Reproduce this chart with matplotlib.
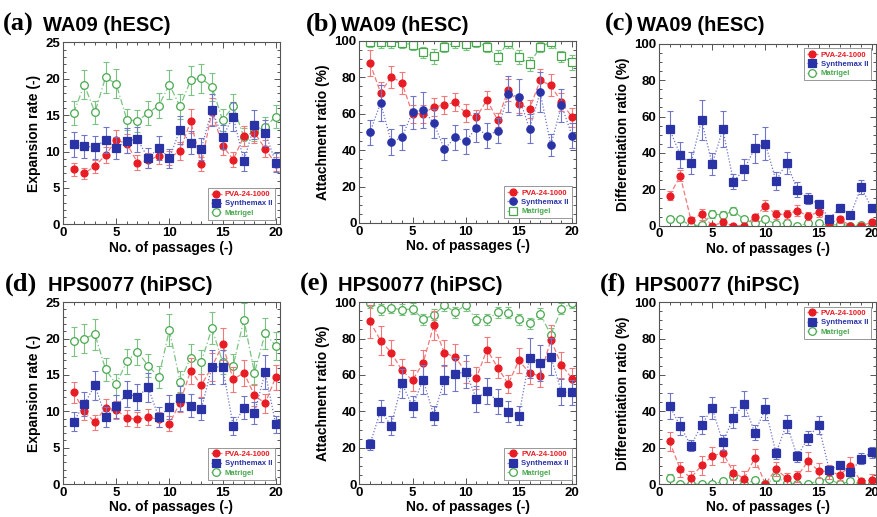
import numpy as np
import matplotlib
matplotlib.use("Agg")
import matplotlib.pyplot as plt
from matplotlib.ticker import MultipleLocator

plt.rcParams['font.family'] = ['Liberation Sans', 'DejaVu Sans']
plt.rcParams['font.weight'] = 'bold'

passages = list(range(1, 21))
labels = ['PVA-24-1000', 'Synthemax II', 'Matrigel']

# (a) WA09 expansion rate
a_pva = [7.6, 7.0, 8.0, 9.5, 11.6, 11.1, 8.5, 8.8, 9.4, 9.1, 10.1, 14.2, 8.3, 15.5, 10.8, 8.9, 12.1, 12.6, 10.4, 8.3]
a_pva_err = [0.9, 0.8, 0.9, 1.1, 1.4, 1.3, 1.0, 1.0, 1.1, 1.0, 1.2, 1.7, 1.0, 1.8, 1.3, 1.0, 1.4, 1.4, 1.2, 1.0]
a_syn = [11.0, 10.7, 10.6, 11.6, 10.5, 11.5, 11.7, 9.1, 10.5, 9.1, 13.0, 11.2, 10.4, 15.7, 12.0, 14.8, 8.7, 13.7, 12.6, 8.5]
a_syn_err = [1.7, 1.6, 1.6, 1.8, 1.5, 1.7, 1.7, 1.4, 1.6, 1.3, 1.9, 1.6, 1.5, 2.2, 1.7, 2.0, 1.3, 2.0, 1.8, 1.3]
a_mat = [15.3, 19.2, 15.4, 20.2, 19.3, 14.4, 14.2, 15.3, 16.3, 19.2, 16.2, 19.8, 20.1, 18.9, 14.3, 16.2, 12.0, 12.8, 13.4, 14.8]
a_mat_err = [1.6, 2.0, 1.6, 2.1, 2.0, 1.5, 1.5, 1.6, 1.7, 2.0, 1.7, 2.0, 2.0, 1.9, 1.5, 1.7, 1.3, 1.4, 1.4, 1.6]

# (b) WA09 attachment ratio
b_pva = [87.8, 71.6, 80.3, 77.1, 60.0, 60.0, 63.8, 64.8, 66.4, 60.3, 58.0, 67.7, 56.5, 73.2, 65.5, 62.7, 78.4, 75.6, 66.4, 58.0]
b_pva_err = [7, 6, 6, 6, 5, 5, 5, 5, 5, 5, 4, 5, 4, 6, 5, 5, 6, 6, 5, 5]
b_syn = [49.8, 66.0, 44.5, 47.0, 60.9, 62.2, 54.8, 40.6, 47.0, 44.8, 52.4, 48.0, 50.7, 71.0, 69.2, 51.8, 71.8, 42.8, 64.6, 48.0]
b_syn_err = [7, 10, 7, 7, 9, 10, 8, 6, 7, 7, 8, 7, 7, 10, 10, 8, 11, 6, 9, 7]
b_mat = [99.6, 99.4, 99.4, 99.0, 98.0, 93.7, 91.5, 96.7, 99.3, 98.3, 99.6, 96.7, 91.3, 99.4, 91.3, 87.3, 96.7, 99.4, 91.7, 88.2]
b_mat_err = [3, 3, 3, 3, 3, 3, 4, 3, 3, 3, 3, 3, 4, 3, 4, 4, 3, 3, 3, 4]

# (c) WA09 differentiation ratio
c_pva = [16.6, 27.4, 3.3, 6.4, 0.0, 1.8, 0.0, 0.0, 4.6, 10.9, 6.3, 6.3, 8.3, 5.3, 7.5, 1.3, 3.5, 0.0, 0.0, 1.8]
c_pva_err = [2.5, 3.0, 1.5, 3.0, 0.5, 1.5, 0.5, 0.5, 2.0, 3.0, 2.5, 2.5, 3.0, 2.0, 2.5, 1.0, 2.0, 0.5, 0.5, 1.5]
c_syn = [53.0, 38.9, 34.3, 58.0, 33.9, 53.0, 24.3, 30.9, 42.5, 45.1, 24.7, 34.6, 19.9, 14.9, 12.2, 3.9, 9.9, 5.9, 21.2, 9.6]
c_syn_err = [10, 7, 6, 11, 6, 10, 4, 6, 8, 9, 5, 6, 4, 3, 2, 1.5, 2, 1.5, 4, 2]
c_mat = [3.9, 3.5, 0.0, 0.4, 6.4, 5.9, 8.1, 3.5, 1.3, 3.5, 0.9, 1.7, 0.0, 1.3, 1.3, 0.0, 0.9, 0.0, 0.4, 0.0]
c_mat_err = [1.5, 1.5, 0.5, 0.5, 2.0, 2.0, 2.0, 1.5, 1.0, 1.5, 1.0, 1.0, 0.5, 1.0, 1.0, 0.5, 1.0, 0.5, 0.5, 0.5]

# (d) HPS0077 expansion rate
d_pva = [12.6, 10.0, 8.5, 10.5, 10.2, 9.1, 8.9, 9.2, 8.9, 8.3, 11.2, 15.6, 13.6, 16.1, 19.2, 14.4, 15.3, 12.2, 11.1, 14.7]
d_pva_err = [1.5, 1.2, 1.0, 1.2, 1.2, 1.1, 1.0, 1.1, 1.0, 1.0, 1.3, 1.8, 1.6, 1.9, 2.2, 1.7, 1.8, 1.4, 1.3, 1.7]
d_syn = [8.6, 11.0, 13.6, 9.2, 10.7, 12.4, 12.0, 13.3, 9.2, 10.6, 11.8, 10.8, 10.3, 16.1, 16.1, 8.0, 10.5, 9.8, 15.4, 8.2]
d_syn_err = [1.3, 1.6, 2.0, 1.4, 1.6, 1.8, 1.8, 2.0, 1.4, 1.6, 1.7, 1.6, 1.5, 2.3, 2.3, 1.2, 1.6, 1.5, 2.3, 1.2]
d_mat = [19.6, 20.0, 20.6, 15.8, 13.7, 16.9, 18.2, 16.3, 14.7, 21.2, 14.1, 17.4, 16.8, 21.4, 16.8, 16.3, 22.6, 15.3, 20.7, 19.0]
d_mat_err = [2.0, 2.0, 2.1, 1.6, 1.4, 1.7, 1.8, 1.6, 1.5, 2.2, 1.5, 1.8, 1.7, 2.2, 1.7, 1.6, 2.3, 1.6, 2.1, 1.9]

# (e) HPS0077 attachment ratio
e_pva = [89.4, 78.9, 72.3, 62.6, 57.0, 66.7, 87.4, 72.0, 70.0, 61.7, 58.4, 74.0, 64.1, 55.1, 68.1, 61.0, 59.5, 79.3, 65.6, 58.0]
e_pva_err = [9, 8, 7, 6, 6, 7, 8, 7, 7, 6, 6, 7, 6, 5, 7, 6, 6, 8, 7, 6]
e_syn = [22.0, 40.3, 32.2, 55.5, 42.7, 57.5, 37.7, 57.5, 60.3, 61.9, 46.9, 51.1, 45.4, 39.9, 37.7, 69.4, 66.5, 70.1, 50.7, 50.4]
e_syn_err = [3, 6, 5, 8, 6, 8, 5, 8, 9, 9, 7, 7, 7, 6, 5, 11, 10, 10, 7, 7]
e_mat = [99.6, 96.2, 96.9, 95.8, 96.3, 90.7, 93.0, 98.4, 94.5, 98.4, 90.3, 90.5, 94.5, 94.1, 90.5, 88.3, 93.6, 82.0, 96.3, 99.6]
e_mat_err = [3, 3, 3, 3, 3, 3, 3, 3, 3, 3, 3, 3, 3, 3, 3, 3, 3, 4, 3, 3]

# (f) HPS0077 differentiation ratio
f_pva = [23.5, 8.1, 3.5, 10.3, 15.4, 17.3, 6.4, 3.1, 14.2, 0.0, 8.3, 3.3, 4.4, 12.5, 7.4, 6.8, 5.3, 9.9, 1.5, 2.4]
f_pva_err = [5, 4, 4, 5, 5, 5, 4, 4, 5, 0.5, 4, 3, 3, 5, 4, 4, 3, 5, 2, 3]
f_syn = [43.0, 32.0, 21.1, 32.5, 41.7, 23.0, 36.6, 44.3, 28.3, 41.5, 17.1, 33.1, 15.3, 25.4, 32.5, 7.9, 10.3, 6.6, 14.0, 17.5]
f_syn_err = [7, 5, 3, 5, 6, 4, 6, 7, 4, 6, 3, 5, 3, 4, 5, 2, 2, 2, 3, 3]
f_mat = [3.5, 0.0, 0.0, 0.0, 0.0, 1.5, 4.6, 0.0, 2.2, 0.0, 3.7, 0.9, 0.0, 0.0, 1.8, 2.9, 0.0, 1.6, 0.0, 0.0]
f_mat_err = [2.0, 0.5, 0.5, 0.5, 0.5, 1.0, 2.0, 0.5, 1.5, 0.5, 2.0, 1.0, 0.5, 0.5, 1.0, 1.5, 0.5, 1.0, 0.5, 0.5]

RED, BLUE, GREEN = '#e81c24', '#2a33a6', '#49a84f'
RED_L, BLUE_L, GREEN_L = '#f2787a', '#6f75c9', '#7cc383'


def draw_panel(ax, data, syn_marker, mat_marker, ylabel, ymax, ymajor, yminor, legloc):
    (pva, pva_e), (syn, syn_e), (mat, mat_e) = data
    styles = [
        (mat, mat_e, GREEN, GREEN_L, mat_marker, 'white', (0, (5, 2, 1, 2)), labels[2], 5.5),
        (pva, pva_e, RED, RED_L, 'o', RED, (0, (4, 2)), labels[0], 5),
        (syn, syn_e, BLUE, BLUE_L, syn_marker, BLUE, (0, (1, 1.5)), labels[1], 5.3),
    ]
    handles = {}
    for vals, errs, col, lcol, mk, mfc, ls, lab, ms in styles:
        ax.errorbar(passages, vals, yerr=errs, fmt='none', ecolor=lcol,
                    elinewidth=0.8, capsize=2, capthick=0.8)
        h, = ax.plot(passages, vals, color=lcol, linestyle=ls, linewidth=0.9,
                     marker=mk, markersize=ms, markerfacecolor=mfc,
                     markeredgecolor=col, markeredgewidth=0.9, label=lab)
        handles[lab] = (h, col)
    ax.set_xlim(0, 20.4)
    ax.set_ylim(0, ymax)
    ax.xaxis.set_major_locator(MultipleLocator(5))
    ax.xaxis.set_minor_locator(MultipleLocator(1))
    ax.yaxis.set_major_locator(MultipleLocator(ymajor))
    ax.yaxis.set_minor_locator(MultipleLocator(yminor))
    ax.tick_params(which='both', direction='in', top=True, right=True,
                   color='#555555', width=0.7)
    ax.tick_params(which='major', length=4, labelsize=9.5, pad=2)
    ax.tick_params(which='minor', length=2)
    for lbl in ax.get_xticklabels() + ax.get_yticklabels():
        lbl.set_fontweight('bold')
    for sp in ax.spines.values():
        sp.set_color('#555555')
        sp.set_linewidth(0.8)
    ax.set_ylabel(ylabel, fontsize=10, fontweight='bold', labelpad=3)
    ax.set_xlabel('No. of passages (-)', fontsize=10, fontweight='bold', labelpad=1)
    leg = ax.legend([handles[l][0] for l in labels], labels, loc=legloc,
                    frameon=True, fancybox=False, framealpha=1,
                    edgecolor='#888888', handlelength=1.4, handletextpad=0.4,
                    borderpad=0.4, labelspacing=0.25, numpoints=1,
                    borderaxespad=0.6, prop={'weight': 'bold', 'size': 5.5})
    leg.get_frame().set_linewidth(0.6)
    for txt, l in zip(leg.get_texts(), labels):
        txt.set_color(handles[l][1])


fig = plt.figure(figsize=(8.77, 5.17), dpi=100)

w = 0.2475
lefts = [0.0718, 0.4097, 0.7514]
top_row = [0.566, 0.5687, 0.5634]
h = 0.352
bot_row = 0.0635

panels = [
    ((lefts[0], top_row[0]), ((a_pva, a_pva_err), (a_syn, a_syn_err), (a_mat, a_mat_err)), 's', 'o',
     'Expansion rate (-)', 25, 5, 1, 'lower right'),
    ((lefts[1], top_row[1]), ((b_pva, b_pva_err), (b_syn, b_syn_err), (b_mat, b_mat_err)), 'o', 's',
     'Attachment ratio (%)', 100, 20, 5, 'lower right'),
    ((lefts[2], top_row[2]), ((c_pva, c_pva_err), (c_syn, c_syn_err), (c_mat, c_mat_err)), 's', 'o',
     'Differentiation ratio (%)', 100, 20, 5, 'upper right'),
    ((lefts[0], bot_row), ((d_pva, d_pva_err), (d_syn, d_syn_err), (d_mat, d_mat_err)), 's', 'o',
     'Expansion rate (-)', 25, 5, 1, 'lower right'),
    ((lefts[1], bot_row), ((e_pva, e_pva_err), (e_syn, e_syn_err), (e_mat, e_mat_err)), 's', 'o',
     'Attachment ratio (%)', 100, 20, 5, 'lower right'),
    ((lefts[2], bot_row), ((f_pva, f_pva_err), (f_syn, f_syn_err), (f_mat, f_mat_err)), 's', 'o',
     'Differentiation ratio (%)', 100, 20, 5, 'upper right'),
]

for (x0, y0), data, sm, mm, yl, ymax, ymaj, ymin, loc in panels:
    ax = fig.add_axes([x0, y0, w, h])
    draw_panel(ax, data, sm, mm, yl, ymax, ymaj, ymin, loc)

# panel titles: serif tag + sans name
titles = [
    ('(a)', 'WA09 (hESC)', 3, 43, 31),
    ('(b)', 'WA09 (hESC)', 306, 341, 31),
    ('(c)', 'WA09 (hESC)', 605, 637, 31),
    ('(d)', 'HPS0077 (hiPSC)', 5, 48, 291),
    ('(e)', 'HPS0077 (hiPSC)', 300, 338, 291),
    ('(f)', 'HPS0077 (hiPSC)', 600, 635, 291),
]
for tag, name, xt, xn, yb in titles:
    fig.text(xt / 877, 1 - yb / 517, tag, family=['Liberation Serif', 'DejaVu Serif'],
             fontsize=19, fontweight='bold', va='baseline', ha='left')
    fig.text(xn / 877, 1 - yb / 517, name, fontsize=14.5, fontweight='bold',
             va='baseline', ha='left')

fig.savefig('out.png', dpi=100)
